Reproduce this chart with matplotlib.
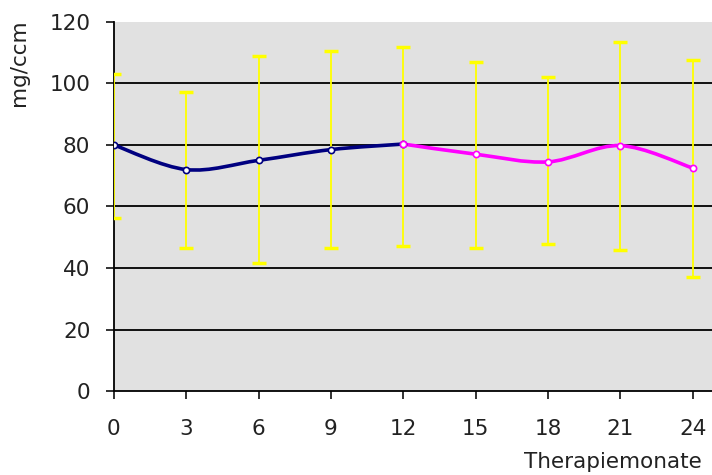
import matplotlib.pyplot as plt
import numpy as np
from matplotlib.path import Path
from matplotlib.patches import PathPatch

plt.rcParams['font.family'] = ['DejaVu Sans']

# Therapiemonate und Mittelwerte (mg/ccm)
monate = [0, 3, 6, 9, 12, 15, 18, 21, 24]
mittel = [80, 72, 75, 78.5, 80.3, 77, 74.5, 79.8, 72.5]
oben = [103, 97.2, 109, 110.5, 112, 107, 102, 113.5, 107.6]
unten = [56.3, 46.5, 41.7, 46.5, 47.3, 46.5, 47.8, 45.9, 37.2]

teil1 = slice(0, 5)   # Monate 0..12
teil2 = slice(4, 9)   # Monate 12..24


def glatte_linie(x, y):
    # Bezier-Kurve wie die "geglättete Linie" in Excel
    x = np.asarray(x, float)
    y = np.asarray(y, float)
    p = np.column_stack([x, y])
    verts = [p[0]]
    codes = [Path.MOVETO]
    n = len(p)
    for i in range(n - 1):
        p_prev = p[i - 1] if i > 0 else p[i]
        p_next = p[i + 2] if i + 2 < n else p[i + 1]
        c1 = p[i] + (p[i + 1] - p_prev) / 6
        c2 = p[i + 1] - (p_next - p[i]) / 6
        verts += [c1, c2, p[i + 1]]
        codes += [Path.CURVE4] * 3
    return Path(verts, codes)


fig = plt.figure(figsize=(7.12, 4.75), dpi=100)
ax = fig.add_axes([0.160, 0.1768, 0.840, 0.777])
ax.set_facecolor('#e1e1e1')

# Fehlerbalken
y_err = [np.array(mittel) - np.array(unten), np.array(oben) - np.array(mittel)]
ax.errorbar(monate, mittel, yerr=y_err, fmt='none', ecolor='#ffff00',
            elinewidth=1.3, capsize=5, capthick=2.5, zorder=3)

for sl, farbe in [(teil1, '#000080'), (teil2, '#ff00ff')]:
    ax.add_patch(PathPatch(glatte_linie(monate[sl], mittel[sl]), facecolor='none',
                           edgecolor=farbe, lw=2.6, zorder=4))
    ax.plot(monate[sl], mittel[sl], linestyle='none', marker='o', ms=4.5,
            mfc='white', mec=farbe, mew=1.2, zorder=5)

ax.set_xlim(0, 24.8)
ax.set_ylim(0, 120)
ax.set_xticks(monate)
ax.set_yticks(range(0, 121, 20))
for yv in range(20, 120, 20):
    ax.axhline(yv, color='black', lw=1.3, zorder=1)

for s in ['top', 'right']:
    ax.spines[s].set_visible(False)
for s in ['left', 'bottom']:
    ax.spines[s].set_linewidth(1.3)
ax.tick_params(direction='out', length=6, width=1.3, labelsize=15.5,
               colors='#222222')
ax.tick_params(axis='y', pad=11)
ax.tick_params(axis='x', pad=14)

fig.text(0.026, 0.868, 'mg/ccm', rotation=90, ha='center', va='center',
         fontsize=15.5, color='#222222')
fig.text(0.986, 0.027, 'Therapiemonate', ha='right', va='center',
         fontsize=15.5, color='#222222')

fig.savefig('out.png', dpi=100)
